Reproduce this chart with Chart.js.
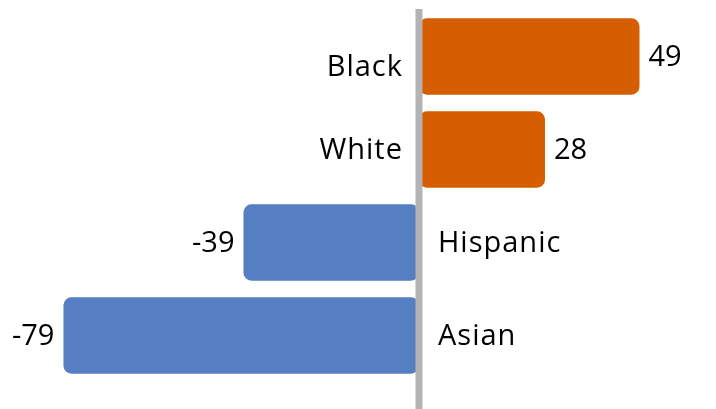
<!DOCTYPE html>
<html>
<head>
<meta charset="utf-8">
<script src="https://cdn.jsdelivr.net/npm/chart.js@4.4.0/dist/chart.umd.min.js"></script>
<style>
  html, body { margin: 0; padding: 0; background: #fff; }
  #wrap { width: 716px; height: 409px; position: relative; }
</style>
</head>
<body>
<div id="wrap"><canvas id="grafico"></canvas></div>
<script>
  // datos
  const categorias = ["Black", "White", "Hispanic", "Asian"];
  const valores = [49, 28, -39, -79];

  const naranja = "#D55E00";
  const azul = "#567EC2";
  const fuente = "'Open Sans', 'Noto Sans', sans-serif";

  // etiquetas y linea del cero
  const etiquetasPlugin = {
    id: "etiquetas",
    afterDatasetsDraw(chart) {
      const ctx = chart.ctx;
      const x0 = chart.scales.x.getPixelForValue(0);
      const meta = chart.getDatasetMeta(0);

      ctx.save();
      ctx.fillStyle = "#B3B3B3";
      ctx.fillRect(x0 - 3.5, chart.chartArea.top - 1, 7, chart.height);

      ctx.font = "29px " + fuente;
      ctx.fillStyle = "#000";
      ctx.textBaseline = "middle";
      meta.data.forEach((bar, i) => {
        const v = valores[i];
        const y = bar.y + 1;
        // la etiqueta "Black" queda algo mas baja en el original
        const dy = i === 0 ? 10 : 0;
        ctx.letterSpacing = "1px";
        if (v >= 0) {
          ctx.textAlign = "right";
          ctx.fillText(categorias[i], x0 - 16, y + dy);
        } else {
          ctx.textAlign = "left";
          ctx.fillText(categorias[i], x0 + 19, y);
        }
        ctx.letterSpacing = "0px";
        if (v >= 0) {
          ctx.textAlign = "left";
          ctx.fillText(String(v), bar.x + 9, y);
        } else {
          ctx.textAlign = "right";
          ctx.fillText(String(v), bar.x - 9, y);
        }
      });
      ctx.restore();
    }
  };

  function generarGrafico() {
    let canvas = document.getElementById("grafico");
    let data = {
      labels: categorias,
      datasets: [{
        data: valores,
        backgroundColor: valores.map(v => v >= 0 ? naranja : azul),
        borderRadius: 8,
        borderSkipped: false,
        barPercentage: 0.82,
        categoryPercentage: 1
      }]
    };
    let configuracion = {
      indexAxis: "y",
      responsive: true,
      maintainAspectRatio: false,
      animation: false,
      layout: { padding: { top: 10, bottom: 27, left: 0, right: 0 } },
      plugins: {
        legend: { display: false },
        tooltip: { enabled: false }
      },
      scales: {
        x: { display: false, min: -93.1, max: 66 },
        y: { display: false }
      }
    };
    new Chart(canvas, {
      type: "bar",
      data: data,
      options: configuracion,
      plugins: [etiquetasPlugin]
    });
  }

  generarGrafico();
</script>
</body>
</html>
